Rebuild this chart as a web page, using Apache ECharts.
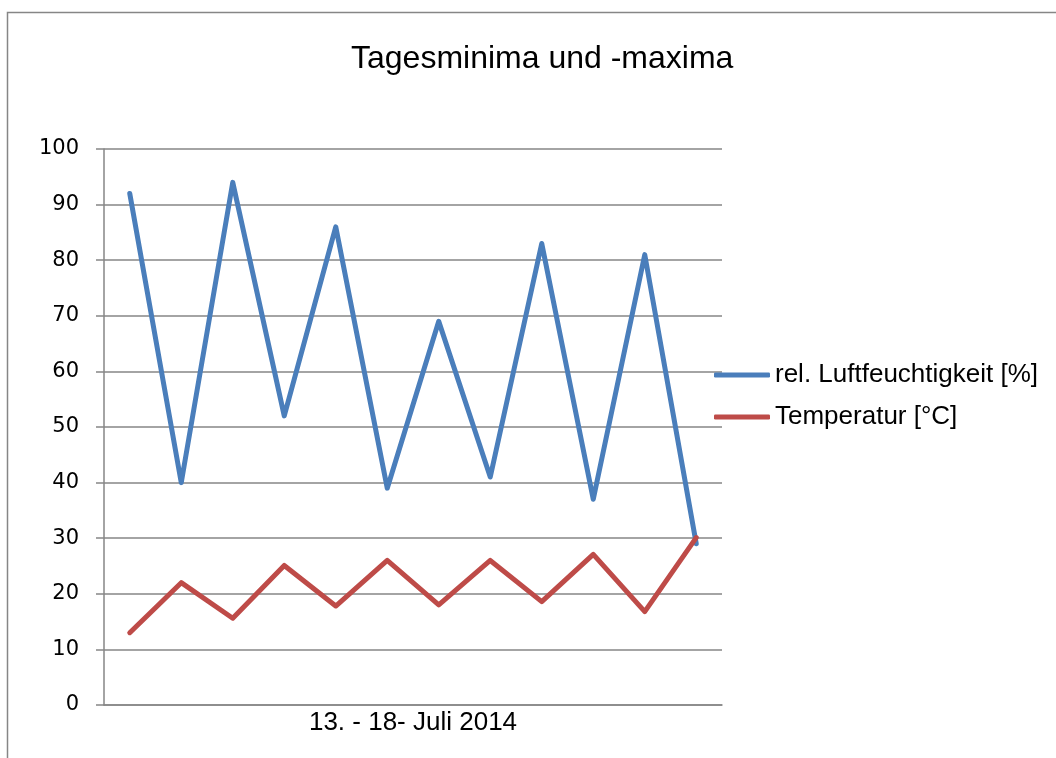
<!DOCTYPE html>
<html>
<head>
<meta charset="utf-8">
<script src="https://cdn.jsdelivr.net/npm/echarts@6/dist/echarts.min.js"></script>
<style>html,body{margin:0;padding:0;background:#fff;}#c{width:1056px;height:758px;}</style>
</head>
<body>
<div id="c"></div>
<script>
const titleText = 'Tagesminima und -maxima';
const xAxisName = '13. - 18- Juli 2014';
const categories = ['1','2','3','4','5','6','7','8','9','10','11','12'];
const humidityName = 'rel. Luftfeuchtigkeit [%]';
const humidity = [92, 40, 94, 52, 86, 39, 69, 41, 83, 37, 81, 29];
const temperatureName = 'Temperatur [°C]';
const temperature = [13, 22, 15.6, 25.1, 17.8, 26, 18, 26, 18.6, 27.1, 16.8, 30.1];

const chart = echarts.init(document.getElementById('c'), null, {renderer: 'canvas'});
chart.setOption({
  animation: false,
  backgroundColor: '#ffffff',
  graphic: [{
    type: 'rect', silent: true, z: -10,
    shape: {x: 7.5, y: 12.5, width: 1200, height: 900},
    style: {fill: 'none', stroke: '#868686', lineWidth: 1.5}
  }],
  title: {
    text: titleText, left: 346, top: 38,
    textStyle: {fontFamily: 'Liberation Sans', fontSize: 32, fontWeight: 'normal', color: '#000'}
  },
  legend: {
    orient: 'vertical', left: 709, top: 355,
    itemWidth: 56, itemHeight: 5, itemGap: 12, icon: 'roundRect',
    textStyle: {fontFamily: 'Liberation Sans', fontSize: 26, color: '#000', lineHeight: 30},
    data: [humidityName, temperatureName]
  },
  grid: {left: 104, right: 334, top: 149, bottom: 53, containLabel: false},
  xAxis: {
    type: 'category', data: categories, boundaryGap: true,
    name: xAxisName, nameLocation: 'middle', nameGap: 5,
    nameTextStyle: {fontFamily: 'Liberation Sans', fontSize: 26, color: '#000', verticalAlign: 'top'},
    axisLine: {lineStyle: {color: '#868686', width: 1.5}},
    axisTick: {show: false}, axisLabel: {show: false}, splitLine: {show: false}
  },
  yAxis: {
    type: 'value', min: 0, max: 100, interval: 10,
    axisLine: {show: true, lineStyle: {color: '#868686', width: 1.5}},
    axisTick: {show: true, length: 8, lineStyle: {color: '#868686', width: 1.5}},
    axisLabel: {fontFamily: 'DejaVu Sans', fontSize: 21, color: '#000', margin: 25},
    splitLine: {show: true, lineStyle: {color: '#868686', width: 1.5}}
  },
  series: [
    {name: humidityName, type: 'line', data: humidity, symbol: 'none',
     itemStyle: {color: '#4A7EBB'}, lineStyle: {color: '#4A7EBB', width: 5, join: 'round', cap: 'round'}},
    {name: temperatureName, type: 'line', data: temperature, symbol: 'none',
     itemStyle: {color: '#BE4B48'}, lineStyle: {color: '#BE4B48', width: 5, join: 'round', cap: 'round'}}
  ]
});
</script>
</body>
</html>
